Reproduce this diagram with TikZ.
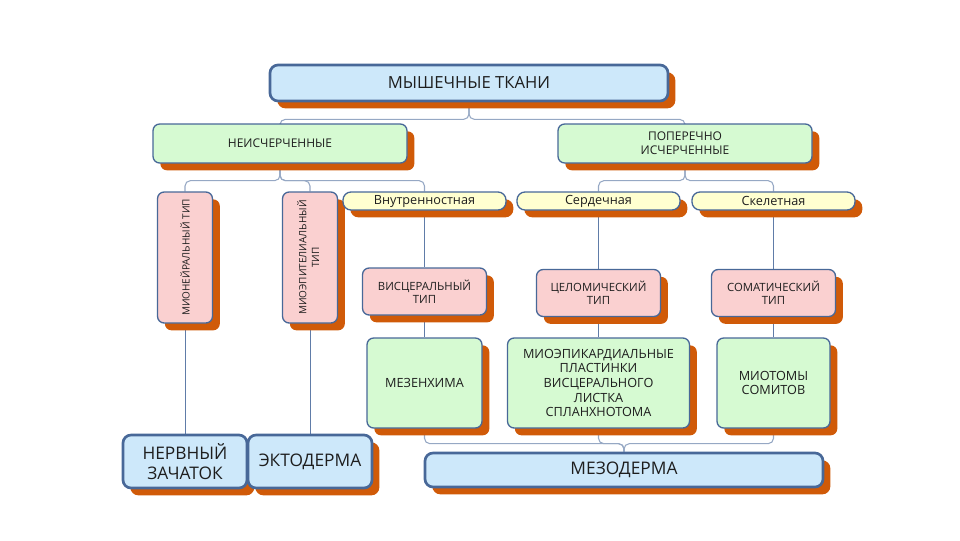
\documentclass[tikz,border=0pt]{standalone}
\usepackage{fontspec}
\setmainfont{Open Sans}
\usepackage{tikz}
\usetikzlibrary{shadows, backgrounds}
\definecolor{boxblue}{RGB}{205, 232, 250}
\definecolor{boxgreen}{RGB}{214, 250, 210}
\definecolor{boxpink}{RGB}{250, 208, 208}
\definecolor{boxyellow}{RGB}{255, 255, 208}
\definecolor{edgeblue}{RGB}{72, 104, 152}
\definecolor{linkgray}{RGB}{150, 168, 196}
\definecolor{stemblue}{RGB}{96, 124, 168}
\definecolor{shadoworange}{RGB}{208, 90, 8}
\definecolor{textdark}{RGB}{30, 30, 30}

\begin{document}
\begin{tikzpicture}[
    x=0.75pt, y=-0.75pt,
    basebox/.style={
        rectangle,
        rounded corners=5pt,
        draw=edgeblue,
        line width=1pt,
        align=center,
        inner sep=2pt,
        text=textdark,
        drop shadow={shadow xshift=5.5pt, shadow yshift=-5.5pt, fill=shadoworange, opacity=1}
    },
    germnode/.style={
        basebox,
        fill=boxblue,
        line width=2pt,
        rounded corners=6pt,
        font=\fontsize{13}{15.5}\selectfont
    },
    titlenode/.style={
        germnode,
        minimum width=298.5pt,
        minimum height=27pt,
        font=\fontsize{12.5}{14}\selectfont
    },
    groupnode/.style={
        basebox,
        fill=boxgreen,
        minimum width=190.5pt,
        minimum height=29.25pt,
        font=\fontsize{9}{10.5}\selectfont
    },
    tagnode/.style={
        basebox,
        fill=boxyellow,
        rounded corners=6pt,
        minimum width=122.25pt,
        minimum height=13.5pt,
        font=\fontsize{9.5}{11}\selectfont
    },
    typenode/.style={
        basebox,
        fill=boxpink,
        minimum width=93pt,
        minimum height=35.25pt,
        font=\fontsize{8.5}{10}\selectfont
    },
    uprightnode/.style={
        basebox,
        fill=boxpink,
        minimum width=41.25pt,
        minimum height=98.25pt,
        font=\fontsize{7.5}{9.5}\selectfont
    },
    originnode/.style={
        basebox,
        fill=boxgreen,
        minimum height=67.5pt,
        font=\fontsize{9.5}{11}\selectfont
    },
    link/.style={draw=linkgray, line width=0.8pt, rounded corners=4pt},
    stem/.style={draw=stemblue, line width=0.6pt}
]
    \useasboundingbox (0, 0) rectangle (960, 540);

    % Title
    \node[titlenode] (tkani) at (469, 83) {МЫШЕЧНЫЕ ТКАНИ};

    % Groups
    \node[groupnode] (neisch) at (280, 143.5) {НЕИСЧЕРЧЕННЫЕ};
    \node[groupnode] (popch) at (685, 143.5) {ПОПЕРЕЧНО\\ИСЧЕРЧЕННЫЕ};

    % Kinds
    \node[uprightnode] (mneur) at (185, 257.5) {\rotatebox{90}{МИОНЕЙРАЛЬНЫЙ ТИП}};
    \node[uprightnode] (mepit) at (310, 257.5) {\rotatebox{90}{\begin{tabular}{@{}c@{}}МИОЭПИТЕЛИАЛЬНЫЙ\\ТИП\end{tabular}}};
    \node[tagnode] (vnutr) at (424.5, 201) {Внутренностная};
    \node[tagnode] (serd) at (598.5, 201) {Сердечная};
    \node[tagnode] (skel) at (773.5, 201) {Скелетная};

    % Types
    \node[typenode] (visc) at (424.5, 291.5) {ВИСЦЕРАЛЬНЫЙ\\ТИП};
    \node[typenode] (celom) at (598.5, 293) {ЦЕЛОМИЧЕСКИЙ\\ТИП};
    \node[typenode] (somat) at (773.5, 293) {СОМАТИЧЕСКИЙ\\ТИП};

    % Sources
    \node[originnode, minimum width=86.25pt] (mezench) at (424.5, 383) {МЕЗЕНХИМА};
    \node[originnode, minimum width=136.5pt] (miopl) at (598.5, 383) {МИОЭПИКАРДИАЛЬНЫЕ\\ПЛАСТИНКИ\\ВИСЦЕРАЛЬНОГО\\ЛИСТКА\\СПЛАНХНОТОМА};
    \node[originnode, minimum width=84.75pt] (miot) at (773.5, 383) {МИОТОМЫ\\СОМИТОВ};

    % Germ layers
    \node[germnode, minimum width=93pt, minimum height=39.75pt] (nerv) at (185, 461.5) {НЕРВНЫЙ\\ЗАЧАТОК};
    \node[germnode, minimum width=93pt, minimum height=39.75pt] (ecto) at (310, 461.5) {ЭКТОДЕРМА};
    \node[germnode, minimum width=298.5pt, minimum height=25.5pt] (mezod) at (624, 470) {МЕЗОДЕРМА};

    % Links
    \begin{scope}[on background layer]
        \draw[link] (tkani.south) -- ++(0, 17) -| (neisch.north);
        \draw[link] (tkani.south) -- ++(0, 17) -| (popch.north);
        \draw[link] (neisch.south) -- ++(0, 17) -| (mneur.north);
        \draw[link] (neisch.south) -- ++(0, 17) -| (mepit.north);
        \draw[link] (neisch.south) -- ++(0, 17) -| (vnutr.north);
        \draw[link] (popch.south) -- ++(0, 17) -| (serd.north);
        \draw[link] (popch.south) -- ++(0, 17) -| (skel.north);
        \draw[link] (mezench.south) -- ++(0, 15) -| (mezod.north);
        \draw[link] (miopl.south) -- ++(0, 15) -| (mezod.north);
        \draw[link] (miot.south) -- ++(0, 15) -| (mezod.north);

        \draw[stem] (mneur.south) -- (nerv.north);
        \draw[stem] (mepit.south) -- (ecto.north);
        \draw[stem] (vnutr.south) -- (visc.north);
        \draw[stem] (visc.south) -- (mezench.north);
        \draw[stem] (serd.south) -- (celom.north);
        \draw[stem] (celom.south) -- (miopl.north);
        \draw[stem] (skel.south) -- (somat.north);
        \draw[stem] (somat.south) -- (miot.north);
    \end{scope}
\end{tikzpicture}
\end{document}
